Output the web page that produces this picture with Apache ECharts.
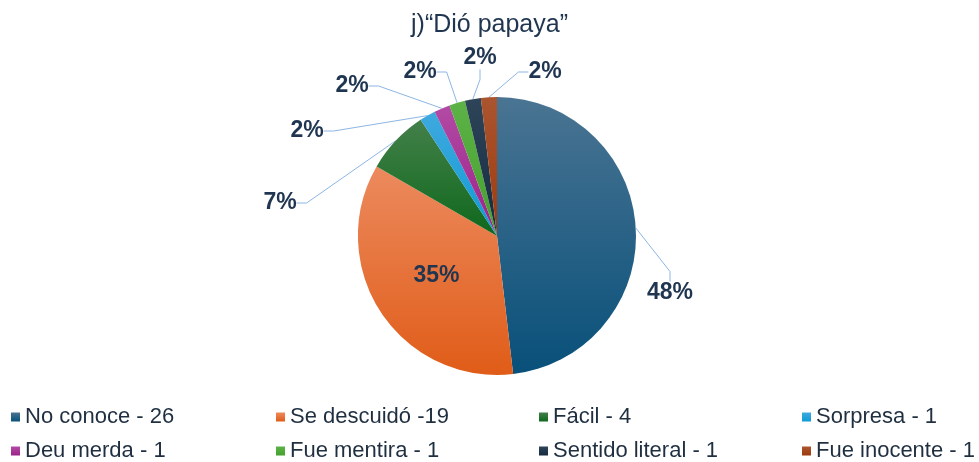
<!DOCTYPE html>
<html>
<head>
<meta charset="utf-8">
<script src="https://cdn.jsdelivr.net/npm/echarts@6/dist/echarts.min.js"></script>
<style>
  html, body { margin: 0; padding: 0; background: #ffffff; }
  #main { width: 979px; height: 462px; }
</style>
</head>
<body>
<div id="main"></div>
<script>
// categories and counts
var categories = ['No conoce - 26', 'Se descuidó -19', 'Fácil - 4', 'Sorpresa - 1',
  'Deu merda - 1', 'Fue mentira - 1', 'Sentido literal - 1', 'Fue inocente - 1'];
var counts = [26, 19, 4, 1, 1, 1, 1, 1];

// slice colours, top -> bottom of each slice
var topColors = ['#4a7492', '#ec8a5e', '#43804a', '#3fa9de', '#b24aa4', '#5cb246', '#2e4459', '#aa5530'];
var bottomColors = ['#08507a', '#e05c18', '#0f681c', '#0e9bd6', '#9c2289', '#45a12e', '#152b40', '#9e3a0c'];

// where each percentage label sits
var labelSpots = [[670, 293], null, [280, 203], [307, 131], [352, 86], [420, 72], [480, 58], [545, 72]];

// legend columns (two rows each)
var legendCols = [11, 276, 539, 802];

function grad(a, b) {
  return {
    type: 'linear', x: 0, y: 0, x2: 0, y2: 1,
    colorStops: [{ offset: 0, color: a }, { offset: 1, color: b }]
  };
}

var chart = echarts.init(document.getElementById('main'));

var legends = legendCols.map(function (x, c) {
  return {
    left: x,
    top: 400,
    width: 250,
    height: 120,
    orient: 'vertical',
    icon: 'rect',
    itemWidth: 9,
    itemHeight: 9,
    itemGap: 0,
    padding: 0,
    textStyle: {
      fontFamily: 'Liberation Sans',
      fontSize: 22,
      color: '#1f2f40',
      lineHeight: 34
    },
    data: [categories[c], categories[c + 4]]
  };
});

var option = {
  backgroundColor: '#ffffff',
  animation: false,
  title: {
    text: 'j)“Dió papaya”',
    left: 'center',
    top: 8,
    textStyle: {
      fontFamily: 'Liberation Sans',
      fontSize: 25,
      fontWeight: 'normal',
      color: '#1f3550'
    }
  },
  legend: legends,
  series: [{
    type: 'pie',
    center: [497, 236],
    radius: 139,
    startAngle: 90,
    clockwise: true,
    avoidLabelOverlap: false,
    label: {
      show: true,
      position: 'outside',
      formatter: function (p) { return Math.round(p.percent) + '%'; },
      fontFamily: 'Liberation Sans',
      fontSize: 23,
      fontWeight: 'bold',
      color: '#1f3550'
    },
    labelLine: {
      show: true,
      length: 10,
      length2: 10,
      lineStyle: { color: '#8db6e4', width: 1 }
    },
    labelLayout: function (p) {
      var s = labelSpots[p.dataIndex];
      if (!s) return {};
      return { x: s[0], y: s[1], align: 'center', verticalAlign: 'middle' };
    },
    data: counts.map(function (v, i) {
      var item = {
        name: categories[i],
        value: v,
        itemStyle: { color: grad(topColors[i], bottomColors[i]) }
      };
      if (i === 1) {
        item.label = { position: 'inside' };
        item.labelLine = { show: false };
      }
      return item;
    })
  }]
};

chart.setOption(option);
</script>
</body>
</html>
